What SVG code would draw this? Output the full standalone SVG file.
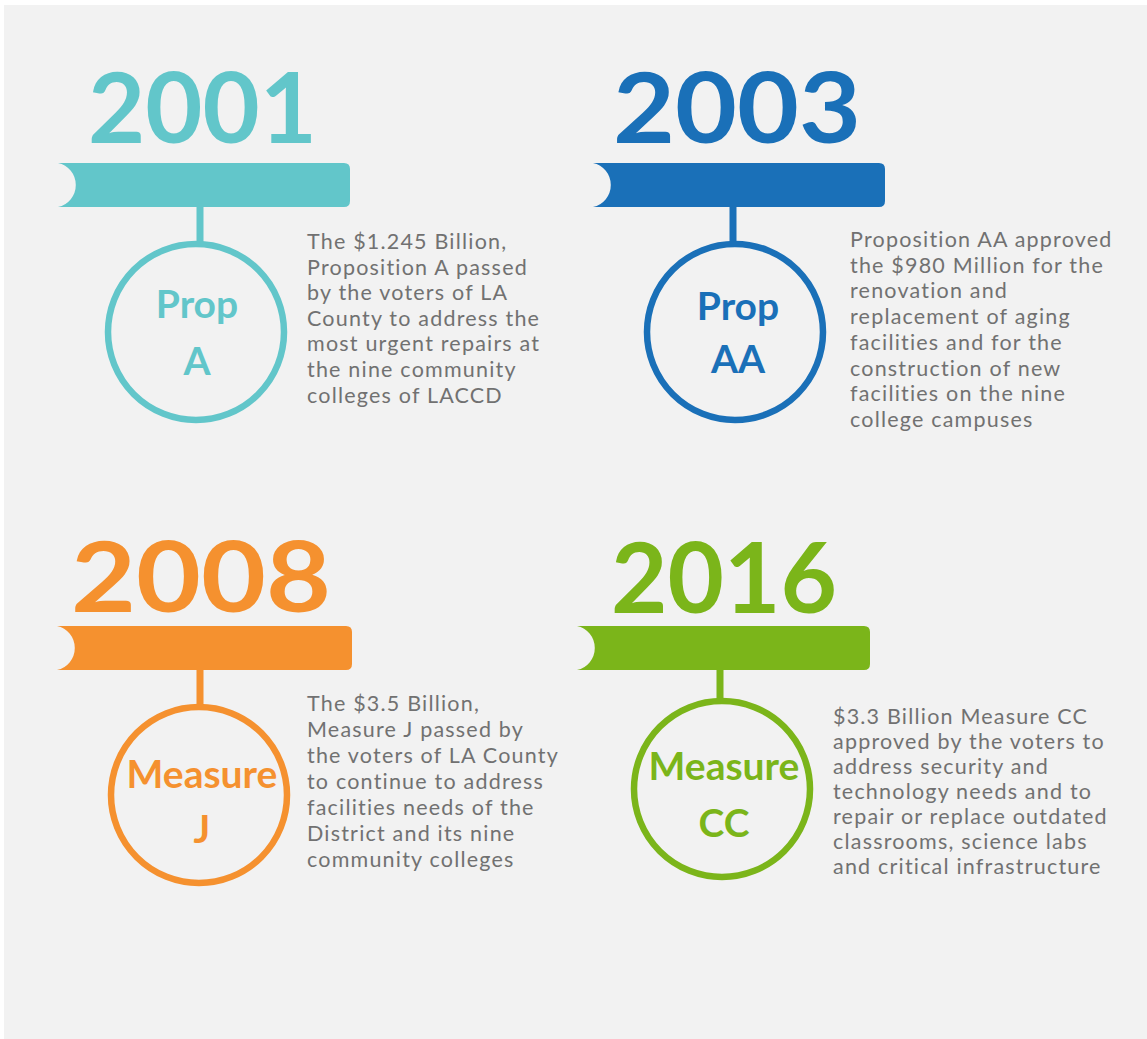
<svg xmlns="http://www.w3.org/2000/svg" width="1147" height="1039" viewBox="0 0 1147 1039">
  <style>
    .year { font-family: Lato, "Noto Sans", sans-serif; font-weight: 700; font-size: 97px; }
    .lbl { font-family: Lato, "Noto Sans", sans-serif; font-weight: 700; font-size: 39px; text-anchor: middle; }
    .desc { font-family: Lato, "Noto Sans", sans-serif; font-size: 21.5px; letter-spacing: 1.2px; fill: #717171; }
    .c1 { fill: #62c6ca; stroke: #62c6ca; }
    .c2 { fill: #1a70b8; stroke: #1a70b8; }
    .c3 { fill: #f5912f; stroke: #f5912f; }
    .c4 { fill: #7bb51a; stroke: #7bb51a; }
    circle.ring { fill: none; stroke-width: 6.5; }
    line.stem { stroke-width: 7; }
    text.c1, text.c2, text.c3, text.c4, path.c1, path.c2, path.c3, path.c4 { stroke: none; }
  </style>
  <rect x="0" y="0" width="1147" height="1039" fill="#ffffff"/>
  <rect x="4" y="5" width="1143" height="1034" fill="#f2f2f2"/>

  <g id="connectors">
    <line class="stem c1" x1="200" y1="205" x2="200" y2="242"/>
    <line class="stem c2" x1="733" y1="205" x2="733" y2="243"/>
    <line class="stem c3" x1="200" y1="668" x2="200" y2="705"/>
    <line class="stem c4" x1="720" y1="668" x2="720" y2="699"/>
  </g>

  <g id="node-2001">
    <text class="year c1" x="88" y="143" textLength="229" lengthAdjust="spacingAndGlyphs">2001</text>
    <path class="c1" d="M58,163 H344 Q350,163 350,169 V201 Q350,207 344,207 H58 A22.5,22.5 0 0 0 58,163 Z"/>
    <circle class="ring c1" cx="196" cy="332" r="88"/>
    <text class="lbl c1" x="197" y="318">Prop</text>
    <text class="lbl c1" x="197" y="375">A</text>
    <text class="desc">
      <tspan x="307" y="249">The $1.245 Billion,</tspan>
      <tspan x="307" y="274.6">Proposition A passed</tspan>
      <tspan x="307" y="300.2">by the voters of LA</tspan>
      <tspan x="307" y="325.8">County to address the</tspan>
      <tspan x="307" y="351.4">most urgent repairs at</tspan>
      <tspan x="307" y="377">the nine community</tspan>
      <tspan x="307" y="402.6">colleges of LACCD</tspan>
    </text>
  </g>

  <g id="node-2003">
    <text class="year c2" x="613" y="143" textLength="248" lengthAdjust="spacingAndGlyphs">2003</text>
    <path class="c2" d="M593,163 H879 Q885,163 885,169 V201 Q885,207 879,207 H593 A22.5,22.5 0 0 0 593,163 Z"/>
    <circle class="ring c2" cx="735" cy="332" r="88"/>
    <text class="lbl c2" x="738" y="320">Prop</text>
    <text class="lbl c2" x="738" y="373">AA</text>
    <text class="desc">
      <tspan x="850" y="247">Proposition AA approved</tspan>
      <tspan x="850" y="272.7">the $980 Million for the</tspan>
      <tspan x="850" y="298.4">renovation and</tspan>
      <tspan x="850" y="324.1">replacement of aging</tspan>
      <tspan x="850" y="349.8">facilities and for the</tspan>
      <tspan x="850" y="375.5">construction of new</tspan>
      <tspan x="850" y="401.2">facilities on the nine</tspan>
      <tspan x="850" y="426.9">college campuses</tspan>
    </text>
  </g>

  <g id="node-2008">
    <text class="year c3" x="71" y="612" textLength="260" lengthAdjust="spacingAndGlyphs">2008</text>
    <path class="c3" d="M57,626 H346 Q352,626 352,632 V664 Q352,670 346,670 H57 A22.5,22.5 0 0 0 57,626 Z"/>
    <circle class="ring c3" cx="199" cy="795" r="88"/>
    <text class="lbl c3" x="202" y="788">Measure</text>
    <text class="lbl c3" x="202" y="843">J</text>
    <text class="desc">
      <tspan x="307" y="711">The $3.5 Billion,</tspan>
      <tspan x="307" y="737">Measure J passed by</tspan>
      <tspan x="307" y="763">the voters of LA County</tspan>
      <tspan x="307" y="789">to continue to address</tspan>
      <tspan x="307" y="815">facilities needs of the</tspan>
      <tspan x="307" y="841">District and its nine</tspan>
      <tspan x="307" y="867">community colleges</tspan>
    </text>
  </g>

  <g id="node-2016">
    <text class="year c4" x="611" y="613" textLength="226" lengthAdjust="spacingAndGlyphs">2016</text>
    <path class="c4" d="M577,626 H864 Q870,626 870,632 V664 Q870,670 864,670 H577 A22.5,22.5 0 0 0 577,626 Z"/>
    <circle class="ring c4" cx="722" cy="789" r="88"/>
    <text class="lbl c4" x="724" y="780">Measure</text>
    <text class="lbl c4" x="724" y="837">CC</text>
    <text class="desc">
      <tspan x="833" y="724">$3.3 Billion Measure CC</tspan>
      <tspan x="833" y="749">approved by the voters to</tspan>
      <tspan x="833" y="774">address security and</tspan>
      <tspan x="833" y="799">technology needs and to</tspan>
      <tspan x="833" y="824">repair or replace outdated</tspan>
      <tspan x="833" y="849">classrooms, science labs</tspan>
      <tspan x="833" y="874">and critical infrastructure</tspan>
    </text>
  </g>
</svg>
